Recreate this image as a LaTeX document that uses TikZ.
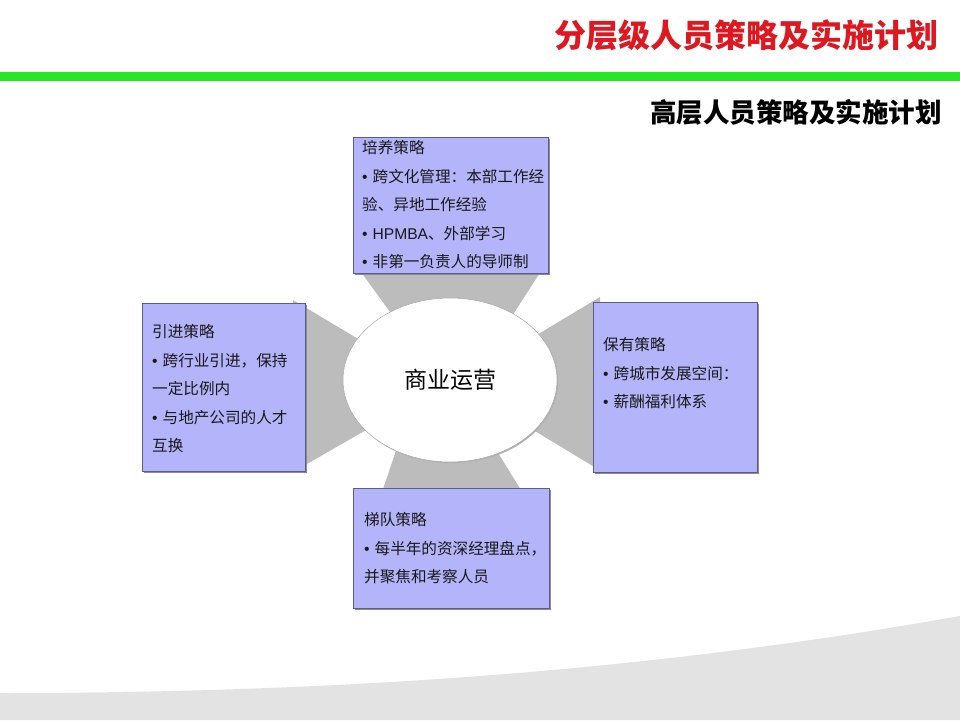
\documentclass[tikz,border=0pt]{standalone}
\usepackage{fontspec}
\setmainfont{Noto Sans CJK SC}
\newfontfamily\latinfont{Liberation Sans}
\usetikzlibrary{shapes.geometric,shadows}

\definecolor{titlered}{RGB}{221,24,32}
\definecolor{bargreen}{RGB}{36,232,36}
\definecolor{boxblue}{RGB}{180,180,251}
\definecolor{boxline}{RGB}{92,92,140}
\definecolor{linkgray}{RGB}{188,188,188}
\definecolor{swooshgray}{RGB}{227,227,227}

% small bullet as in the slide
\newcommand{\bul}{{\latinfont •}\hspace{5pt}}

\begin{document}
\begin{tikzpicture}[x=1pt,y=-1pt,
    stratbox/.style={draw=boxline, fill=boxblue, line width=0.6pt, inner sep=0pt, anchor=north west,
      drop shadow={shadow xshift=1.6pt, shadow yshift=-1.6pt, fill=black!45, opacity=1}},
    strattext/.style={anchor=north west, inner sep=0pt, align=left, text=black!90,
      font=\fontsize{15.6}{28.5}\selectfont},
    link/.style={fill=linkgray}]
    \useasboundingbox (0,0) rectangle (960,720);

    % Background swoosh
    \fill[swooshgray] (0,693) .. controls (400,693) and (700,662) .. (960,616) -- (960,720) -- (0,720) -- cycle;

    % Titles and green bar
    \node[anchor=east, inner sep=0pt, text=titlered, font=\fontsize{32}{32}\selectfont\bfseries] (title) at (939,35) {分层级人员策略及实施计划};
    \fill[bargreen] (0,72) rectangle (960,81);
    \node[anchor=east, inner sep=0pt, font=\fontsize{26.5}{26.5}\selectfont\bfseries] (subtitle) at (942,112) {高层人员策略及实施计划};

    % Gray links between boxes and centre
    \fill[link] (356,265) -- (545,265) -- (503,330) -- (403,330) -- cycle;
    \fill[link] (403,430) -- (484,430) -- (524,495) -- (381,495) -- cycle;
    \fill[link] (293,300) -- (380,352) -- (380,422) -- (300,468) -- (293,468) -- cycle;
    \fill[link] (600,297) -- (520,345) -- (520,422) -- (596,468) -- (605,468) -- cycle;

    % Strategy boxes
    \node[stratbox, minimum width=195pt, minimum height=136pt] (train) at (353,137) {};
    \node[stratbox, minimum width=163pt, minimum height=168pt] (hire) at (142,303) {};
    \node[stratbox, minimum width=164pt, minimum height=170pt] (keep) at (593,302) {};
    \node[stratbox, minimum width=196pt, minimum height=120pt] (ladder) at (353,488) {};

    % Centre
    \node[ellipse, draw=gray!70, fill=white, line width=0.5pt, minimum width=214pt, minimum height=164pt,
      font=\fontsize{23}{23}\selectfont,
      drop shadow={shadow xshift=1.2pt, shadow yshift=-1.2pt, fill=black!30, opacity=1}] (core) at (450,380) {商业运营};

    % Box texts
    \node[strattext] (traintext) at (362,140.5) {培养策略\\\bul 跨文化管理：本部工作经\\验、异地工作经验\\\bul {\latinfont HPMBA}、外部学习\\\bul 非第一负责人的导师制};
    \node[strattext] (hiretext) at (152,324.5) {引进策略\\\bul 跨行业引进，保持\\一定比例内\\\bul 与地产公司的人才\\互换};
    \node[strattext] (keeptext) at (603,337.5) {保有策略\\\bul 跨城市发展空间：\\\bul 薪酬福利体系};
    \node[strattext] (laddertext) at (364,512.5) {梯队策略\\\bul 每半年的资深经理盘点，\\并聚焦和考察人员};
\end{tikzpicture}
\end{document}
